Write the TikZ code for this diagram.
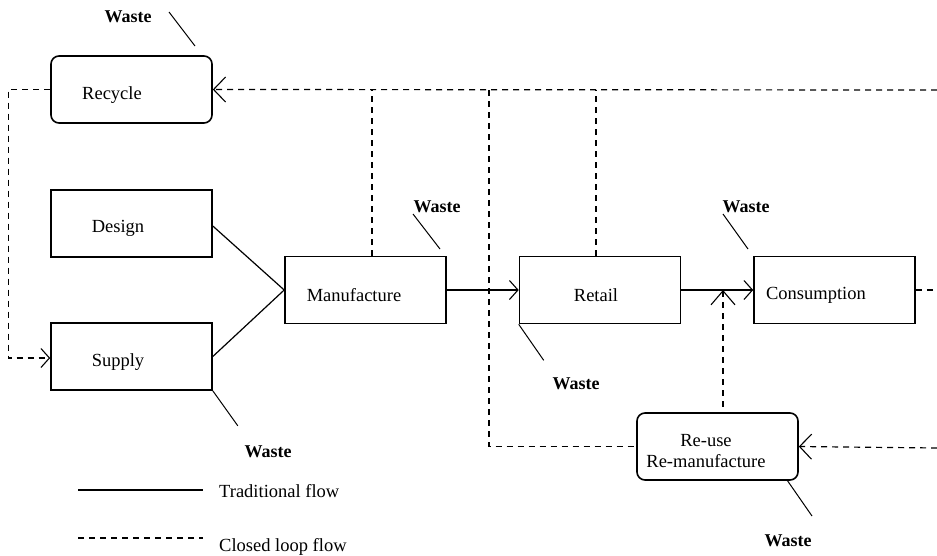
\documentclass[tikz,border=0pt]{standalone}
\usepackage{fontspec}
\setmainfont{Liberation Serif}
\usetikzlibrary{arrows.meta,calc}
\begin{document}
\begin{tikzpicture}[x=1pt,y=-1pt,
  box/.style={draw,line width=1.6pt,minimum width=161pt,minimum height=67pt,inner sep=0pt},
  rbox/.style={box,rounded corners=8pt},
  lbl/.style={inner sep=0pt,font=\fontsize{18.5}{21}\selectfont},
  wst/.style={inner sep=0pt,font=\fontsize{18}{21}\selectfont\bfseries},
  sl/.style={line width=1.2pt},
  dl/.style={line width=1.2pt,dash pattern=on 6pt off 5pt},
  wl/.style={line width=1pt},
  sbarb/.style={-{Straight Barb[length=8.5pt,width=19pt,line width=1.1pt]}},
  bbarb/.style={-{Straight Barb[length=12pt,width=25pt,line width=1.1pt]}}]
\useasboundingbox (0,0) rectangle (937,555);

% process boxes
\node[rbox] (rec) at (131.5,89.5) {};
\node[box]  (des) at (131.5,223.5) {};
\node[box]  (sup) at (131.5,356.5) {};
\node[box]  (man) at (365.5,290) {};
\node[box]  (ret) at (600,290) {};
\node[box]  (con) at (834.5,290) {};
\node[rbox] (reu) at (717.5,446.5) {};

% box captions
\node[lbl] (trec) at (112,95) {Recycle};
\node[lbl] (tdes) at (118,228) {Design};
\node[lbl] (tsup) at (118,362) {Supply};
\node[lbl] (tman) at (354,295) {Manufacture};
\node[lbl] (tret) at (596,295) {Retail};
\node[lbl] (tcon) at (816,295) {Consumption};
\node[lbl,align=center] (treu) at (706,451) {Re-use\\Re-manufacture};

% junction points of the closed loop
\coordinate (tr) at (937,90);
\coordinate (vm) at (372,90);
\coordinate (vv) at (489,90);
\coordinate (vr) at (596,90);
\coordinate (jn) at (723,290);
\coordinate (er) at (937,448);

% traditional flow
\draw[sl] (des.east) ++(0,2.5) -- (man.west);
\draw[sl] (sup.east) -- (man.west);
\draw[sl,sbarb] (man.east) -- (ret.west);
\draw[sl,sbarb] (ret.east) -- (con.west);

% closed loop flow
\draw[dl,bbarb] (tr) -- (rec.east);
\draw[dl,sbarb] (rec.west) -- ++(-42,0) |- ($(sup.west)+(0,1.5)$);
\draw[dl] (man.north -| vm) -- (vm);
\draw[dl] (ret.north -| vr) -- (vr);
\draw[dl] (vv) |- (reu.west);
\draw[dl] (con.east) -- (con.east -| er);
\draw[dl,bbarb] (er) -- (reu.east);
\draw[dl,{Straight Barb[length=14pt,width=24pt,line width=1.1pt]}-] (jn) -- (reu.north -| jn);

% waste outputs
\node[wst] (w1) at (128,17) {Waste};
\draw[wl] (169,12) -- (195,46);
\node[wst] (w2) at (437,207) {Waste};
\draw[wl] (413,214) -- (440,249);
\node[wst] (w3) at (746,207) {Waste};
\draw[wl] (723,214) -- (748,249);
\node[wst] (w4) at (576,384) {Waste};
\draw[wl] (ret.south west) -- ++(25,36);
\node[wst] (w5) at (268,452) {Waste};
\draw[wl] (sup.south east) -- ++(25,35);
\node[wst] (w6) at (788,541) {Waste};
\draw[wl] (787,480) -- (812,516);

% legend
\coordinate (l1a) at (78,490);
\coordinate (l1b) at (203,490);
\coordinate (l2a) at (78,538);
\coordinate (l2b) at (203,538);
\draw[sl,line width=1.5pt] (l1a) -- (l1b);
\draw[dl,line width=1.5pt] (l2a) -- (l2b);
\node[lbl,anchor=west] (lt1) at (219,491) {Traditional flow};
\node[lbl,anchor=west] (lt2) at (219,547) {Closed loop flow};
\end{tikzpicture}
\end{document}
